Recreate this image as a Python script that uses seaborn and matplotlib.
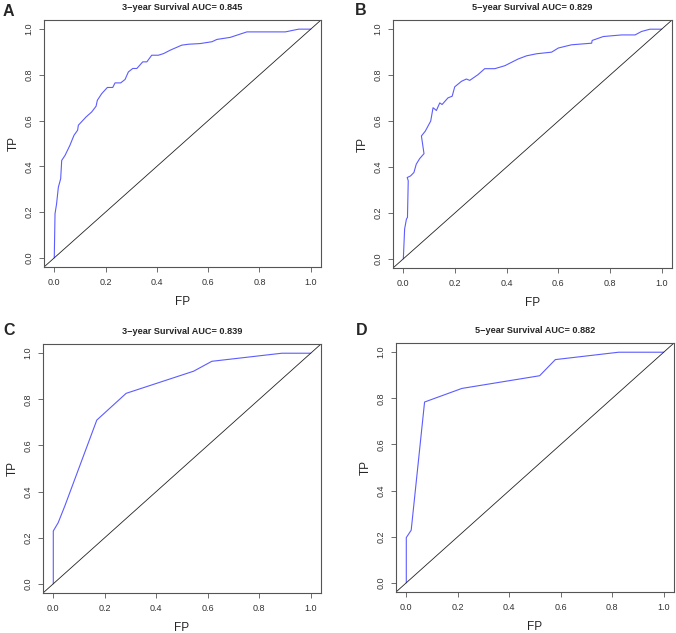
import numpy as np
import pandas as pd
import matplotlib
matplotlib.use("Agg")
import matplotlib.pyplot as plt
import seaborn as sns

# ROC curves
fp_a = [0, 0.003, 0.009, 0.016, 0.025, 0.029, 0.042, 0.061, 0.077, 0.091, 0.094, 0.124, 0.146,
        0.163, 0.168, 0.185, 0.207, 0.228, 0.237, 0.259, 0.276, 0.289, 0.306, 0.322, 0.345,
        0.361, 0.38, 0.406, 0.426, 0.452, 0.497, 0.523, 0.569, 0.615, 0.634, 0.686, 0.751,
        0.901, 0.953, 1.0]
tp_a = [0, 0.193, 0.236, 0.309, 0.346, 0.426, 0.448, 0.492, 0.536, 0.558, 0.58, 0.616, 0.638,
        0.663, 0.689, 0.718, 0.745, 0.745, 0.765, 0.765, 0.78, 0.813, 0.828, 0.828, 0.857,
        0.857, 0.886, 0.886, 0.893, 0.908, 0.93, 0.934, 0.937, 0.945, 0.955, 0.964, 0.988,
        0.988, 1.0, 1.0]

fp_b = [0, 0.005, 0.012, 0.016, 0.019, 0.015, 0.028, 0.041, 0.05, 0.063, 0.08, 0.07, 0.085,
        0.106, 0.115, 0.128, 0.141, 0.15, 0.173, 0.189, 0.199, 0.225, 0.244, 0.257, 0.289,
        0.315, 0.354, 0.393, 0.444, 0.477, 0.516, 0.574, 0.6, 0.651, 0.729, 0.731, 0.774,
        0.845, 0.897, 0.922, 0.955, 1.0]
tp_b = [0, 0.13, 0.173, 0.18, 0.34, 0.354, 0.361, 0.376, 0.412, 0.436, 0.458, 0.535, 0.556,
        0.6, 0.658, 0.646, 0.679, 0.672, 0.701, 0.708, 0.749, 0.773, 0.783, 0.777, 0.802,
        0.828, 0.828, 0.841, 0.87, 0.884, 0.893, 0.9, 0.918, 0.932, 0.939, 0.951, 0.968,
        0.975, 0.975, 0.99, 1.0, 1.0]

fp_c = [0, 0, 0.019, 0.045, 0.169, 0.283, 0.545, 0.616, 0.888, 1.0]
tp_c = [0, 0.229, 0.265, 0.338, 0.71, 0.826, 0.922, 0.965, 1.0, 1.0]

fp_d = [0, 0, 0.019, 0.071, 0.216, 0.518, 0.579, 0.825, 1.0]
tp_d = [0, 0.196, 0.228, 0.784, 0.843, 0.898, 0.968, 1.0, 1.0]

titles = ["3\u2212year Survival AUC= 0.845", "5\u2212year Survival AUC= 0.829",
          "3\u2212year Survival AUC= 0.839", "5\u2212year Survival AUC= 0.882"]
letters = ["A", "B", "C", "D"]
ticks = [0.0, 0.2, 0.4, 0.6, 0.8, 1.0]
tick_labels = ["0.0", "0.2", "0.4", "0.6", "0.8", "1.0"]

sns.set_style("ticks")
plt.rcParams["font.family"] = ["Liberation Sans", "DejaVu Sans"]

fig = plt.figure(figsize=(6.76, 6.33), dpi=100)

# axes boxes (pixels: left, top, right, bottom)
boxes = [(44, 20, 321, 267), (393, 20, 672, 268), (43, 344, 321, 593), (396, 343, 674, 592)]
letter_pos = [(3, 16), (355, 15), (3, 335), (356, 335)]
curves = [(fp_a, tp_a), (fp_b, tp_b), (fp_c, tp_c), (fp_d, tp_d)]

W, H = 676, 633
for i, (l, t, r, b) in enumerate(boxes):
    ax = fig.add_axes([l / W, 1 - b / H, (r - l) / W, (b - t) / H])
    fp, tp = curves[i]
    df = pd.DataFrame({"FP": fp, "TP": tp})
    sns.lineplot(data=df, x="FP", y="TP", sort=False, estimator=None,
                 color="#5c5cff", linewidth=0.8, ax=ax)
    ax.axline((0, 0), (1, 1), color="#222222", linewidth=0.6)
    ax.set_xlim(-0.04, 1.04)
    ax.set_ylim(-0.04, 1.04)
    ax.set_xticks(ticks)
    ax.set_xticklabels(tick_labels)
    ax.set_yticks(ticks)
    ax.set_yticklabels(tick_labels, rotation=90, va="center")
    ax.tick_params(length=3.6, width=0.6, color="#555555", labelsize=6.5,
                   labelcolor="#333333", pad=4)
    for s in ax.spines.values():
        s.set_visible(True)
        s.set_color("#555555")
        s.set_linewidth(0.8)
    ax.set_xlabel("FP", fontsize=8.5, labelpad=6.5)
    ax.set_ylabel("TP", fontsize=8.5, labelpad=3.5)
    ax.set_title(titles[i], fontsize=6.6, fontweight="bold", pad=7)
    fig.text(letter_pos[i][0] / W, 1 - letter_pos[i][1] / H, letters[i],
             fontsize=11.5, fontweight="bold", ha="left", va="baseline")

fig.savefig("out.png", dpi=100)
